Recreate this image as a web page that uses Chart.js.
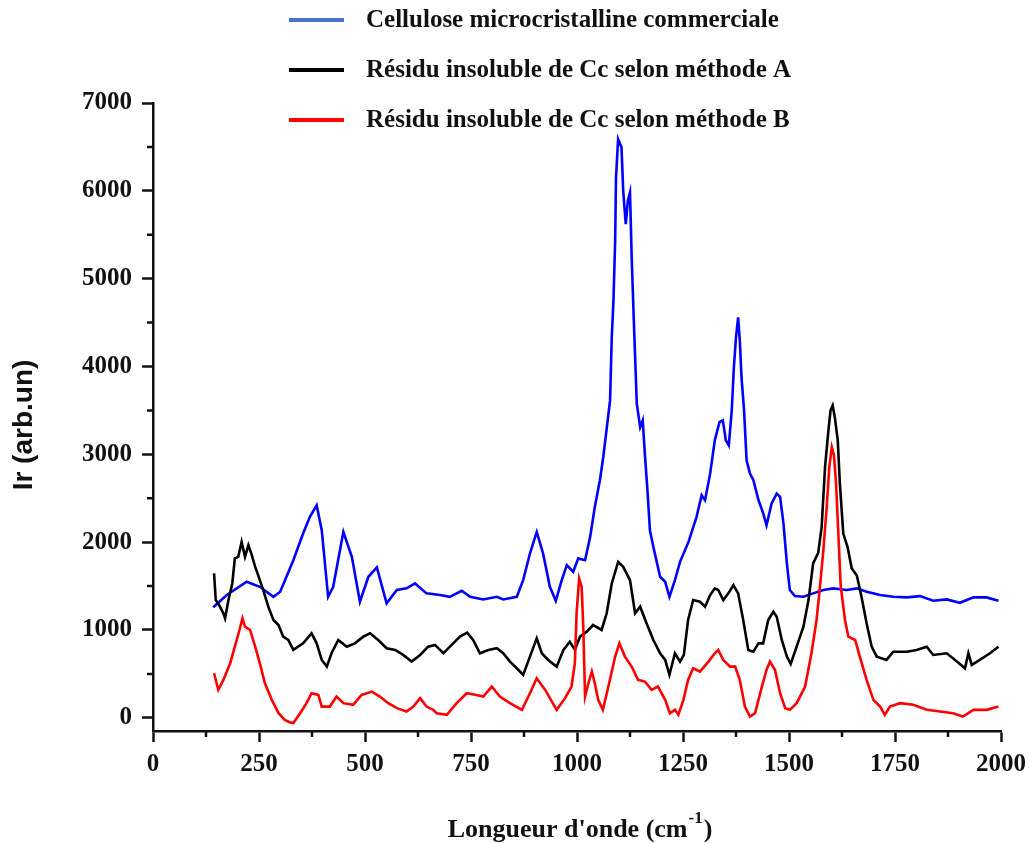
<!DOCTYPE html>
<html>
<head>
<meta charset="utf-8">
<title>Spectres Raman - cellulose</title>
<script src="https://cdn.jsdelivr.net/npm/chart.js@4.4.1/dist/chart.umd.min.js"></script>
<style>
  html, body { margin: 0; padding: 0; background: #fff; }
  #wrap { width: 1029px; height: 844px; }
</style>
</head>
<body>
<div id="wrap"><canvas id="chart" width="1029" height="844"></canvas></div>
<script>
// series names (legend)
const seriesNames = [
    "Cellulose microcristalline commerciale",
    "Résidu insoluble de Cc selon méthode A",
    "Résidu insoluble de Cc selon méthode B"
];

// Cellulose microcristalline commerciale (blue)
const blueX = [142,174,221,252,284,300,331,354,370,386,398,413,425,449,469,488,508,528,551,575,598,618,645,677,700,728,748,779,811,826,858,873,889,905,920,936,950,964,976,991,1003,1019,1031,1042,1054,1062,1078,1082,1086,1090,1092,1097,1105,1109,1115,1120,1125,1129,1134,1141,1149,1155,1160,1166,1172,1180,1196,1208,1218,1231,1243,1263,1282,1294,1302,1314,1325,1336,1344,1351,1358,1365,1370,1375,1380,1384,1388,1394,1400,1408,1416,1428,1439,1447,1459,1471,1479,1487,1495,1502,1514,1534,1557,1581,1604,1636,1660,1683,1715,1746,1778,1809,1840,1872,1903,1935,1966,1994];
const blueY = [1258,1398,1549,1492,1378,1435,1795,2099,2288,2420,2136,1378,1492,2117,1833,1322,1606,1712,1303,1455,1474,1530,1417,1398,1378,1447,1378,1348,1378,1348,1378,1568,1871,2117,1871,1492,1333,1568,1739,1663,1815,1795,2060,2401,2705,2970,3614,4333,4750,5432,6151,6588,6492,6000,5621,5886,5981,5242,4523,3576,3310,3386,3008,2600,2136,1947,1606,1549,1378,1568,1776,2003,2288,2534,2477,2780,3159,3367,3386,3159,3102,3500,3992,4333,4560,4295,3878,3500,2932,2780,2705,2480,2330,2193,2440,2553,2515,2212,1758,1455,1386,1378,1417,1455,1474,1455,1474,1435,1398,1378,1371,1386,1333,1348,1310,1371,1371,1333];

// Résidu insoluble - méthode A (black)
const blackX = [144,148,156,166,170,178,187,193,201,209,217,225,233,241,248,260,272,284,296,307,319,331,354,374,386,398,410,421,437,457,476,496,512,531,551,571,590,610,630,649,665,685,708,724,741,755,771,791,811,826,842,858,873,889,905,917,932,952,968,983,995,1007,1023,1038,1058,1070,1082,1097,1109,1125,1137,1149,1164,1180,1196,1208,1218,1231,1243,1252,1262,1274,1290,1302,1314,1325,1333,1345,1357,1369,1380,1392,1404,1416,1428,1439,1451,1463,1471,1483,1495,1504,1518,1534,1546,1557,1569,1577,1585,1593,1598,1603,1608,1615,1620,1628,1638,1648,1660,1671,1683,1695,1707,1730,1746,1778,1801,1825,1840,1872,1896,1915,1923,1931,1950,1974,1994];
const blackY = [1644,1341,1284,1190,1133,1341,1530,1815,1833,2003,1833,1966,1852,1719,1625,1455,1265,1114,1057,924,886,773,848,962,848,659,583,735,886,810,848,924,962,886,792,773,716,640,716,810,830,735,848,924,970,886,735,773,792,735,640,564,489,697,905,735,659,583,773,867,773,924,981,1057,1000,1190,1530,1776,1719,1568,1190,1265,1076,886,735,659,489,735,640,716,1114,1341,1322,1265,1398,1474,1455,1341,1417,1511,1417,1114,773,753,848,848,1114,1208,1151,886,697,614,810,1038,1341,1758,1880,2170,2856,3273,3500,3557,3424,3159,2667,2098,1947,1700,1620,1378,1076,810,697,659,753,753,773,810,716,735,640,564,735,602,659,735,810];

// Résidu insoluble - méthode B (red)
const redX = [144,154,166,182,193,204,211,217,229,241,252,264,280,296,311,322,331,347,362,374,390,398,417,433,449,472,492,516,535,555,575,598,614,630,645,661,669,693,716,740,763,779,799,818,842,870,889,905,925,952,972,987,995,999,1005,1011,1015,1019,1027,1035,1042,1050,1061,1074,1090,1100,1113,1129,1144,1160,1176,1191,1208,1219,1231,1239,1251,1262,1274,1290,1310,1325,1333,1345,1361,1373,1384,1396,1408,1420,1436,1447,1455,1467,1479,1491,1502,1518,1538,1553,1565,1573,1581,1589,1595,1601,1606,1611,1616,1622,1632,1640,1656,1667,1683,1699,1715,1726,1738,1762,1793,1825,1856,1887,1910,1935,1966,1994];
const redY = [508,318,432,621,810,1000,1133,1038,1000,810,621,394,205,53,-23,-50,-60,53,167,280,261,128,128,242,167,148,261,299,242,167,110,72,128,224,128,91,53,34,167,280,261,242,356,242,167,91,280,451,318,91,224,356,621,1190,1587,1492,1000,242,394,527,394,205,91,356,697,848,697,583,432,413,318,356,205,53,91,34,205,432,564,527,640,735,773,659,583,583,432,128,15,53,356,545,640,545,280,110,91,167,356,735,1114,1492,1909,2401,2856,3083,2989,2667,2136,1500,1114,924,886,697,432,205,128,34,128,167,148,91,72,53,15,91,91,128];

// axes
const xTicks = [0, 250, 500, 750, 1000, 1250, 1500, 1750, 2000];
const xMinorTicks = [125, 375, 625, 875, 1125, 1375, 1625, 1875];
const yTicks = [0, 1000, 2000, 3000, 4000, 5000, 6000, 7000];
const yMinorTicks = [500, 1500, 2500, 3500, 4500, 5500, 6500];
const yTitle = "Ir (arb.un)";
const xTitle = "Longueur d'onde (cm";
const xTitleSup = "-1";

const lineColors = ["#0000ff", "#000000", "#ff0000"];
const legendColors = ["#4a74c9", "#000000", "#ff0000"];
const serif = "'Liberation Serif', 'Times New Roman', serif";

function toPoints(xs, ys) {
    return xs.map((x, i) => ({ x: x, y: ys[i] }));
}

// draws the minor ticks, the legend and both axis titles
const decorations = {
    id: "decorations",
    afterDraw(chart) {
        const ctx = chart.ctx;
        const area = chart.chartArea;
        const xs = chart.scales.x;
        const ys = chart.scales.y;
        ctx.save();

        // minor ticks
        ctx.strokeStyle = "#111";
        ctx.lineWidth = 2.5;
        ctx.beginPath();
        xMinorTicks.forEach(v => {
            const px = xs.getPixelForValue(v);
            ctx.moveTo(px, area.bottom);
            ctx.lineTo(px, area.bottom + 6);
        });
        yMinorTicks.forEach(v => {
            const py = ys.getPixelForValue(v);
            ctx.moveTo(area.left, py);
            ctx.lineTo(area.left - 6, py);
        });
        ctx.stroke();

        // legend
        ctx.font = "bold 25px " + serif;
        ctx.textBaseline = "middle";
        ctx.textAlign = "left";
        seriesNames.forEach((name, i) => {
            const y = 20 + i * 50;
            ctx.strokeStyle = legendColors[i];
            ctx.lineWidth = 4;
            ctx.beginPath();
            ctx.moveTo(289, y);
            ctx.lineTo(344, y);
            ctx.stroke();
            ctx.fillStyle = "#111";
            ctx.fillText(name, 366, y + 1);
        });

        // y title
        ctx.save();
        ctx.translate(24, 425);
        ctx.rotate(-Math.PI / 2);
        ctx.font = "bold 28px 'Liberation Sans', Arial, sans-serif";
        ctx.textAlign = "center";
        ctx.fillText(yTitle, 0, 0);
        ctx.restore();

        // x title with superscript
        ctx.textBaseline = "alphabetic";
        ctx.font = "bold 26px " + serif;
        const w1 = ctx.measureText(xTitle).width;
        const w3 = ctx.measureText(")").width;
        ctx.font = "bold 17px " + serif;
        const w2 = ctx.measureText(xTitleSup).width;
        let x0 = 579 - (w1 + w2 + w3) / 2;
        const base = 837;
        ctx.font = "bold 26px " + serif;
        ctx.fillText(xTitle, x0, base);
        ctx.font = "bold 17px " + serif;
        ctx.fillText(xTitleSup, x0 + w1 + 1, base - 14);
        ctx.font = "bold 26px " + serif;
        ctx.fillText(")", x0 + w1 + w2 + 2, base);

        ctx.restore();
    }
};

const tickFont = { family: serif, size: 25, weight: "bold" };

new Chart(document.getElementById("chart"), {
    type: "line",
    data: {
        datasets: [
            { label: seriesNames[0], data: toPoints(blueX, blueY), borderColor: lineColors[0], order: 2 },
            { label: seriesNames[1], data: toPoints(blackX, blackY), borderColor: lineColors[1], order: 1 },
            { label: seriesNames[2], data: toPoints(redX, redY), borderColor: lineColors[2], order: 0 }
        ]
    },
    options: {
        responsive: false,
        animation: false,
        layout: { padding: { top: 103, right: 28, left: 0, bottom: 0 } },
        elements: {
            line: { borderWidth: 2.6, tension: 0, fill: false },
            point: { radius: 0 }
        },
        plugins: {
            legend: { display: false },
            tooltip: { enabled: false }
        },
        scales: {
            x: {
                type: "linear",
                min: 0,
                max: 2000,
                afterBuildTicks: s => { s.ticks = xTicks.map(v => ({ value: v })); },
                afterFit: s => { s.height = 113; s.paddingLeft = 0; s.paddingRight = 0; },
                grid: { drawOnChartArea: false, drawTicks: true, tickLength: 11, tickColor: "#111", tickWidth: 2.5 },
                border: { display: true, color: "#111", width: 2.5 },
                ticks: { font: tickFont, color: "#111", padding: 8, maxRotation: 0, autoSkip: false, callback: v => String(v) }
            },
            y: {
                min: -150,
                max: 7000,
                afterBuildTicks: s => { s.ticks = yTicks.map(v => ({ value: v })); },
                afterFit: s => { s.width = 153; s.paddingTop = 0; s.paddingBottom = 0; },
                grid: { drawOnChartArea: false, drawTicks: true, tickLength: 11, tickColor: "#111", tickWidth: 2.5 },
                border: { display: true, color: "#111", width: 2.5 },
                ticks: { font: tickFont, color: "#111", padding: 10, autoSkip: false, callback: v => String(v) }
            }
        }
    },
    plugins: [decorations]
});
</script>
</body>
</html>
